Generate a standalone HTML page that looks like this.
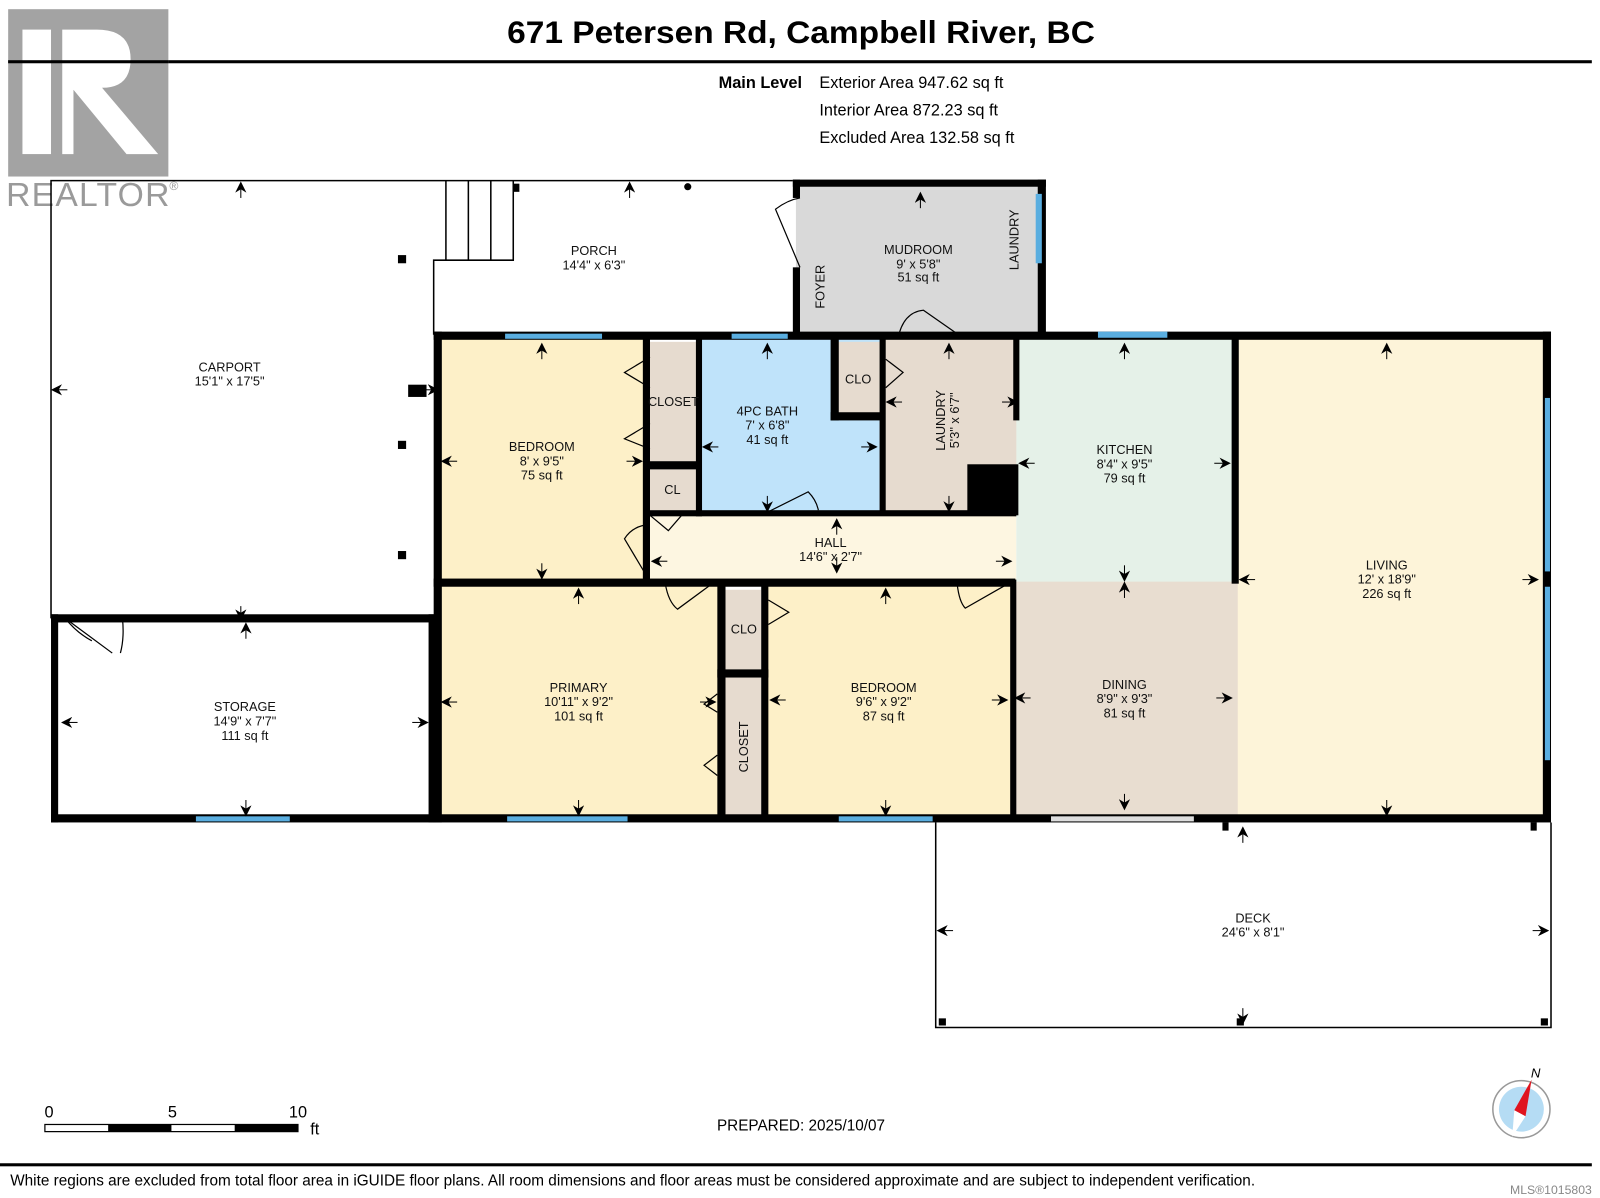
<!DOCTYPE html>
<html><head><meta charset="utf-8"><style>
html,body{margin:0;padding:0;background:#fff;}
svg{display:block;font-family:"Liberation Sans",Arial,sans-serif;}
.t{font-size:12.5px;fill:#111;text-anchor:middle;}
</style></head><body>
<svg width="1600" height="1198" viewBox="0 0 1600 1198" xmlns="http://www.w3.org/2000/svg">
<defs>
<marker id="a" viewBox="0 0 10 10" refX="8" refY="5" markerWidth="11" markerHeight="11" markerUnits="userSpaceOnUse" orient="auto"><path d="M0,0 L10,5 L0,10 L3,5z" fill="#000"/></marker>
</defs>
<g transform="scale(1.0204)">
<!-- title -->
<text x="785" y="42" font-size="31" font-weight="bold" text-anchor="middle" fill="#000" textLength="576" lengthAdjust="spacingAndGlyphs">671 Petersen Rd, Campbell River, BC</text>
<rect x="8" y="59" width="1552" height="3" fill="#000"/>
<!-- realtor logo -->
<rect x="8" y="9" width="157" height="164" fill="#a3a3a3"/>
<rect x="22" y="29" width="28" height="122" fill="#fff"/>
<path d="M61,29 L95,29 Q128,29 128,58 Q128,86 100,86 L155,151 L124,151 L72,88 L72,151 L61,151z" fill="#fff"/>
<rect x="8" y="59" width="157" height="3" fill="#000"/>
<text x="6" y="202" font-size="33" fill="#9a9a9a" textLength="160">REALTOR</text>
<text x="166" y="186" font-size="12" fill="#9a9a9a">®</text>
<!-- area text -->
<text x="786" y="86" font-size="16" font-weight="bold" text-anchor="end">Main Level</text>
<text x="803" y="86" font-size="16">Exterior Area 947.62 sq ft</text>
<text x="803" y="113" font-size="16">Interior Area 872.23 sq ft</text>
<text x="803" y="140" font-size="16">Excluded Area 132.58 sq ft</text>

<!-- room fills -->
<rect x="780" y="180" width="240" height="148" fill="#d9d9d9"/>
<rect x="432" y="332" width="204" height="237" fill="#fdf0c8"/>
<rect x="636" y="335" width="48" height="118" fill="#e6dbcf"/>
<rect x="636" y="460" width="48" height="42" fill="#e6dbcf"/>
<rect x="686" y="332" width="176" height="170" fill="#bfe3fa"/>
<rect x="820" y="335" width="44" height="70" fill="#e6dbcf"/>
<rect x="866" y="332" width="132" height="170" fill="#e6dbcf"/>
<rect x="636" y="505" width="360" height="64" fill="#fdf6e1"/>
<rect x="996" y="332" width="214" height="240" fill="#e5f1e8"/>
<rect x="1212" y="332" width="302" height="468" fill="#fdf4d9"/>
<rect x="993" y="570" width="220" height="230" fill="#e8ddd0"/>
<rect x="432" y="574" width="272" height="226" fill="#fdf0c8"/>
<rect x="710" y="578" width="36" height="80" fill="#e6dbcf"/>
<rect x="710" y="664" width="36" height="136" fill="#e6dbcf"/>
<rect x="752" y="574" width="240" height="226" fill="#fdf0c8"/>

<!-- thin lines -->
<g stroke="#000" stroke-width="1.5" fill="none">
<path d="M50,606 L50,177 L777,177"/>
<path d="M425,328 L425,255 L437,255 L437,177 M437,255 L503,255 L503,177 M459,177 L459,255 M481,177 L481,255"/>
<path d="M917,806 L917,1007 L1520,1007 L1520,806"/>
</g>
<!-- thick walls -->
<g fill="#000">
<rect x="777" y="176" width="248" height="7"/>
<rect x="777" y="176" width="7" height="18"/>
<rect x="777" y="262" width="7" height="70"/>
<rect x="1017" y="176" width="8" height="156"/>
<rect x="425" y="325" width="1095" height="8"/>
<rect x="425" y="325" width="8" height="481"/>
<rect x="1512" y="325" width="8" height="480"/>
<rect x="50" y="798" width="1470" height="8"/>
<rect x="50" y="602" width="377" height="8"/>
<rect x="50" y="602" width="7" height="204"/>
<rect x="420" y="602" width="7" height="204"/>
<rect x="425" y="567" width="570" height="8"/>
<rect x="630" y="332" width="7" height="240"/>
<rect x="682" y="332" width="6" height="174"/>
<rect x="636" y="452" width="50" height="8"/>
<rect x="636" y="500" width="360" height="6"/>
<rect x="862" y="332" width="6" height="172"/>
<rect x="814" y="332" width="8" height="80"/>
<rect x="814" y="404" width="50" height="8"/>
<rect x="993" y="332" width="6" height="80"/>
<rect x="948" y="455" width="50" height="50"/>
<rect x="1207" y="332" width="7" height="240"/>
<rect x="703" y="570" width="8" height="232"/>
<rect x="746" y="570" width="7" height="232"/>
<rect x="703" y="656" width="50" height="8"/>
<rect x="990" y="568" width="6" height="234"/>
<rect x="400" y="377" width="18" height="12"/>
<rect x="390" y="250" width="8" height="8"/><rect x="390" y="432" width="8" height="8"/><rect x="390" y="540" width="8" height="8"/>
<rect x="503" y="180" width="6" height="8"/><circle cx="674" cy="183" r="3.5"/>
<rect x="1198" y="806" width="6" height="8"/><rect x="1500" y="806" width="6" height="8"/>
<rect x="920" y="998" width="7" height="7"/><rect x="1212" y="998" width="7" height="7"/><rect x="1510" y="998" width="7" height="7"/>
</g>
<!-- windows -->
<g fill="#5aaee0">
<rect x="1015" y="190" width="6" height="68"/>
<rect x="495" y="327" width="95" height="5"/>
<rect x="717" y="327" width="55" height="5"/>
<rect x="1076" y="325" width="68" height="6"/>
<rect x="1514" y="390" width="5" height="170"/>
<rect x="1514" y="575" width="5" height="170"/>
<rect x="192" y="800" width="92" height="5"/>
<rect x="497" y="800" width="118" height="5"/>
<rect x="822" y="800" width="92" height="5"/>
</g>
<rect x="1030" y="800" width="140" height="5" fill="#ddd"/>
<!-- door swings -->
<g stroke="#000" stroke-width="1.2" fill="none">
<path d="M784,262 L760,205 Q772,196 784,194"/>
<path d="M880,332 Q885,306 905,304 L945,332"/>
<path d="M637,350 L612,365 L637,380 M637,415 L612,430 L637,440"/>
<path d="M752,502 L792,482 Q800,490 802,500"/>
<path d="M637,505 L655,520 L668,505"/>
<path d="M637,514 Q620,515 612,528 L637,570"/>
<path d="M652,572 Q655,590 664,597 L698,572"/>
<path d="M753,588 L773,600 L753,612"/>
<path d="M703,680 L690,690 L703,698 M703,740 L690,750 L703,760"/>
<path d="M938,572 Q940,590 946,596 L988,572"/>
<path d="M868,352 L885,365 L868,380"/>
<path d="M64,606 Q75,620 90,628 M120,606 Q122,625 118,640 M64,606 L110,640"/>
</g>
<!-- measurement arrows -->
<g stroke="#000" stroke-width="1" marker-end="url(#a)">
<path d="M236,194 L236,180"/><path d="M617,194 L617,180"/><path d="M902,204 L902,190"/>
<path d="M66,382 L52,382"/><path d="M414,382 L428,382"/>
<path d="M236,594 L236,606"/><path d="M531,352 L531,338"/><path d="M531,552 L531,566"/>
<path d="M448,452 L434,452"/><path d="M614,452 L628,452"/>
<path d="M752,352 L752,338"/><path d="M752,486 L752,500"/><path d="M704,438 L690,438"/><path d="M844,438 L858,438"/>
<path d="M930,352 L930,338"/><path d="M930,486 L930,500"/><path d="M884,394 L870,394"/><path d="M982,394 L996,394"/>
<path d="M1102,352 L1102,338"/><path d="M1102,554 L1102,568"/><path d="M1014,454 L1000,454"/><path d="M1190,454 L1204,454"/>
<path d="M1359,352 L1359,338"/><path d="M1359,784 L1359,798"/><path d="M1230,568 L1216,568"/><path d="M1492,568 L1506,568"/>
<path d="M1102,586 L1102,572"/><path d="M1102,778 L1102,792"/><path d="M1010,684 L996,684"/><path d="M1192,684 L1206,684"/>
<path d="M567,592 L567,578"/><path d="M567,784 L567,798"/><path d="M448,688 L434,688"/><path d="M686,688 L700,688"/>
<path d="M868,592 L868,578"/><path d="M868,784 L868,798"/><path d="M770,686 L756,686"/><path d="M972,686 L986,686"/>
<path d="M241,626 L241,612"/><path d="M241,784 L241,798"/><path d="M76,708 L62,708"/><path d="M404,708 L418,708"/>
<path d="M820,546 L820,560"/><path d="M820,524 L820,510"/><path d="M654,550 L640,550"/><path d="M976,550 L990,550"/>
<path d="M1218,826 L1218,812"/><path d="M1218,988 L1218,1002"/><path d="M934,912 L920,912"/><path d="M1502,912 L1516,912"/>
</g>
<!-- labels -->
<text class="t" x="582" y="250">PORCH</text><text class="t" x="582" y="264">14'4" x 6'3"</text>
<text class="t" x="900" y="249">MUDROOM</text><text class="t" x="900" y="263">9' x 5'8"</text><text class="t" x="900" y="276">51 sq ft</text>
<text class="t" transform="translate(808,281) rotate(-90)">FOYER</text>
<text class="t" transform="translate(998,235) rotate(-90)">LAUNDRY</text>
<text class="t" x="225" y="364">CARPORT</text><text class="t" x="225" y="378">15'1" x 17'5"</text>
<text class="t" x="531" y="442">BEDROOM</text><text class="t" x="531" y="456">8' x 9'5"</text><text class="t" x="531" y="470">75 sq ft</text>
<text class="t" x="660" y="398" font-size="10">CLOSET</text>
<text class="t" x="659" y="484">CL</text>
<text class="t" x="841" y="376">CLO</text>
<text class="t" x="752" y="407">4PC BATH</text><text class="t" x="752" y="421">7' x 6'8"</text><text class="t" x="752" y="435">41 sq ft</text>
<text class="t" transform="translate(926,412) rotate(-90)">LAUNDRY</text><text class="t" transform="translate(940,412) rotate(-90)">5'3" x 6'7"</text>
<text class="t" x="1102" y="445">KITCHEN</text><text class="t" x="1102" y="459">8'4" x 9'5"</text><text class="t" x="1102" y="473">79 sq ft</text>
<text class="t" x="814" y="536">HALL</text><text class="t" x="814" y="550">14'6" x 2'7"</text>
<text class="t" x="1359" y="558">LIVING</text><text class="t" x="1359" y="572">12' x 18'9"</text><text class="t" x="1359" y="586">226 sq ft</text>
<text class="t" x="729" y="621">CLO</text>
<text class="t" transform="translate(733,732) rotate(-90)">CLOSET</text>
<text class="t" x="567" y="678">PRIMARY</text><text class="t" x="567" y="692">10'11" x 9'2"</text><text class="t" x="567" y="706">101 sq ft</text>
<text class="t" x="866" y="678">BEDROOM</text><text class="t" x="866" y="692">9'6" x 9'2"</text><text class="t" x="866" y="706">87 sq ft</text>
<text class="t" x="1102" y="675">DINING</text><text class="t" x="1102" y="689">8'9" x 9'3"</text><text class="t" x="1102" y="703">81 sq ft</text>
<text class="t" x="240" y="697">STORAGE</text><text class="t" x="240" y="711">14'9" x 7'7"</text><text class="t" x="240" y="725">111 sq ft</text>
<text class="t" x="1228" y="904">DECK</text><text class="t" x="1228" y="918">24'6" x 8'1"</text>
<!-- scale bar -->
<text x="48" y="1095" font-size="16" text-anchor="middle">0</text>
<text x="169" y="1095" font-size="16" text-anchor="middle">5</text>
<text x="292" y="1095" font-size="16" text-anchor="middle">10</text>
<text x="304" y="1112" font-size="16">ft</text>
<rect x="44" y="1102" width="248" height="7" fill="#fff" stroke="#000" stroke-width="1.2"/>
<rect x="106" y="1102" width="62" height="7" fill="#000"/>
<rect x="230" y="1102" width="62" height="7" fill="#000"/>
<text x="785" y="1108" font-size="15" text-anchor="middle">PREPARED: 2025/10/07</text>
<!-- compass -->
<circle cx="1491" cy="1087" r="28" fill="#fff" stroke="#999" stroke-width="1.5"/>
<circle cx="1491" cy="1087" r="22" fill="#b5dcf4"/>
<path d="M1501,1058 L1495,1094 L1484,1088z" fill="#e0141e"/>
<path d="M1484,1088 L1495,1094 L1482,1114z" fill="#fff"/>
<text x="1505" y="1056" font-size="13" font-style="italic" text-anchor="middle">N</text>
<!-- footer -->
<rect x="0" y="1140" width="1560" height="3" fill="#000"/>
<text x="10" y="1162" font-size="15" textLength="1220" lengthAdjust="spacingAndGlyphs">White regions are excluded from total floor area in iGUIDE floor plans. All room dimensions and floor areas must be considered approximate and are subject to independent verification.</text>
<text x="1560" y="1170" font-size="12" fill="#888" text-anchor="end">MLS®1015803</text>
</g>
</svg>
</body></html>
